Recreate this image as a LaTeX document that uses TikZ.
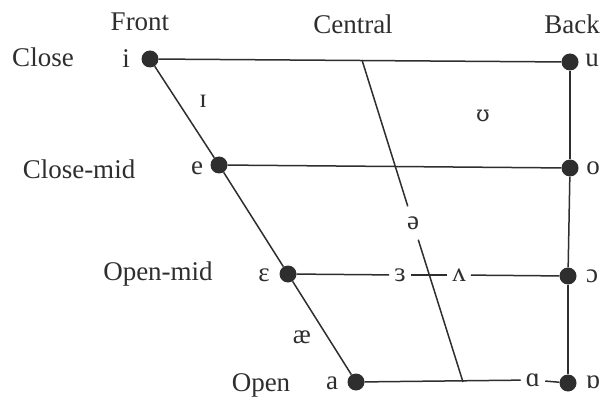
\documentclass[tikz,border=0pt]{standalone}
\usepackage{fontspec}
\setmainfont{Liberation Serif}
\newfontfamily\ipaalt{DejaVu Serif}
\definecolor{ink}{HTML}{2E2E2E}
\begin{document}
\begin{tikzpicture}[x=1pt,y=-1pt,
  every node/.style={font=\fontsize{27}{32}\selectfont, text=ink},
  dot/.style={circle, fill=ink, minimum size=17pt, inner sep=0pt},
  line/.style={draw=ink, line width=1.5pt},
  brk/.style={inner xsep=5pt, inner ysep=2pt},
  vbrk/.style={inner xsep=3pt, inner ysep=10pt}]
\useasboundingbox[fill=white] (0,0) rectangle (600,401);
% dots
\node[dot] (i) at (150,59) {};
\node[dot] (u) at (570,62) {};
\node[dot] (e) at (219,165) {};
\node[dot] (o) at (570,168) {};
\node[dot] (E) at (288,274) {};
\node[dot] (oo) at (568,276) {};
\node[dot] (a) at (356,382) {};
\node[dot] (ob) at (568,383) {};
\coordinate (ctop) at (362,60);
\coordinate (cbot) at (463,382);
% vowels on lines
\node[vbrk] (schwa) at (413,223) {ə};
\node[brk] (er) at (400,275) {ɜ};
\node[brk] (wedge) at (459,275) {ʌ};
\node[brk] (alpha) at (533,380) {ɑ};
% lines
\draw[line] (i) -- (u);
\draw[line] (e) -- (o);
\draw[line] (u) -- (o);
\draw[line] (o) -- (oo);
\draw[line] (oo) -- (ob);
\draw[line] (i) -- (e);
\draw[line] (e) -- (E);
\draw[line] (E) -- (a);
\draw[line] (E) -- (er);
\draw[line] (er) -- (wedge);
\draw[line] (wedge) -- (oo);
\draw[line] (a) -- (alpha);
\draw[line] (alpha) -- (ob);
\draw[line] (ctop) -- (schwa);
\draw[line] (schwa) -- (cbot);
% column / row labels
\node (front) at (140,22) {Front};
\node (central) at (353,24) {Central};
\node (back) at (572,24) {Back};
\node (close) at (43,57) {Close};
\node (closemid) at (79,169) {Close-mid};
\node (openmid) at (158,274) {Open-mid};
\node (open) at (261,385) {Open};
% vowel labels
\node (li) at (126,59) {i};
\node (lu) at (592,60) {u};
\node (lI) at (203,101) {ɪ};
\node[font=\ipaalt\fontsize{22}{26}\selectfont] (lU) at (483,116) {ʊ};
\node (le) at (197,168) {e};
\node (lo) at (593,168) {o};
\node (lE) at (264,275) {ɛ};
\node (loo) at (592,276) {ɔ};
\node (lae) at (302,337) {æ};
\node (la) at (332,383) {a};
\node (lob) at (593,382) {ɒ};
\end{tikzpicture}
\end{document}
